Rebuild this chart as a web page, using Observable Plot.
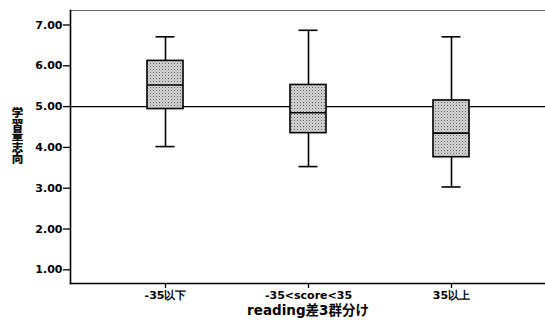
<!DOCTYPE html>
<html><head><meta charset="utf-8">
<script src="https://cdn.jsdelivr.net/npm/d3@7"></script>
<script src="https://cdn.jsdelivr.net/npm/@observablehq/plot@0.6"></script>
<style>html,body{margin:0;padding:0;background:#fff}svg{display:block}
text.vtitle{writing-mode:vertical-rl;text-orientation:upright;}
</style>
</head><body><div id="chart"></div>
<script>
const groups = ["-35以下", "-35<score<35", "35以上"];
const whiskerHigh = [6.71, 6.87, 6.71];
const q3 = [6.12, 5.53, 5.15];
const median = [5.53, 4.85, 4.35];
const q1 = [4.94, 4.35, 3.76];
const whiskerLow = [4.02, 3.53, 3.03];
const yTicks = [1, 2, 3, 4, 5, 6, 7];
const refValue = [5];
const xTitle = "reading差3群分け";
const yTitle = "学習量志向";

const data = groups.map((g, i) => ({group: g, hi: whiskerHigh[i], q3: q3[i], med: median[i], q1: q1[i], lo: whiskerLow[i]}));

const svg = Plot.plot({
  width: 545,
  height: 325,
  marginLeft: 70,
  marginRight: 0,
  marginTop: 10,
  marginBottom: 42,
  style: {fontFamily: "'DejaVu Sans', sans-serif", fontSize: "11px", fontWeight: "bold", background: "white", color: "black"},
  x: {type: "band", domain: groups, paddingInner: 0.75, paddingOuter: 0.53, label: null},
  y: {domain: [0.665, 7.355], label: null},
  marks: [
    Plot.frame({anchor: "top", stroke: "#666", strokeWidth: 1.2, strokeDasharray: "8,1,3,1"}),
    Plot.ruleY(refValue, {stroke: "black", strokeWidth: 1.2}),
    Plot.ruleX(data, {x: "group", y1: "q3", y2: "hi", stroke: "black", strokeWidth: 1.6}),
    Plot.ruleX(data, {x: "group", y1: "lo", y2: "q1", stroke: "black", strokeWidth: 1.6}),
    Plot.tickY(data, {x: "group", y: "hi", insetLeft: 8.5, insetRight: 8.5, stroke: "black", strokeWidth: 1.6}),
    Plot.tickY(data, {x: "group", y: "lo", insetLeft: 8.5, insetRight: 8.5, stroke: "black", strokeWidth: 1.6}),
    Plot.barY(data, {x: "group", y1: "q1", y2: "q3", fill: "url(#stipple)", stroke: "black", strokeWidth: 1.6}),
    Plot.tickY(data, {x: "group", y: "med", stroke: "black", strokeWidth: 1.6}),
    Plot.axisY(yTicks, {tickFormat: d => d.toFixed(2), tickSize: 7, tickPadding: 1, strokeWidth: 1.3, fontSize: 11, label: null}),
    Plot.axisX({tickSize: 5, tickPadding: 3, strokeWidth: 1.3, fontSize: 11, label: null}),
    Plot.frame({anchor: "left", stroke: "black", strokeWidth: 1.6}),
    Plot.frame({anchor: "bottom", stroke: "black", strokeWidth: 1.6}),
    Plot.text([xTitle], {frameAnchor: "bottom", dy: 31, fontSize: 13.5, letterSpacing: 1.2, fontWeight: "bold", fontFamily: "'DejaVu Sans', 'Noto Sans CJK JP', sans-serif"}),
    Plot.text([yTitle], {frameAnchor: "left", textAnchor: "middle", dx: -53, dy: -15, fontSize: 11.5, letterSpacing: -2.5, fontWeight: "900", fontFamily: "'Noto Sans CJK JP', sans-serif", className: "vtitle"})
  ]
});

const defs = document.createElementNS("http://www.w3.org/2000/svg", "defs");
defs.innerHTML = '<pattern id="stipple" width="3" height="3" patternUnits="userSpaceOnUse"><rect width="3" height="3" fill="#d9d9d9"/><rect x="0" y="0" width="1" height="1" fill="#555"/><rect x="1.5" y="1.5" width="1" height="1" fill="#888"/></pattern>';
svg.insertBefore(defs, svg.firstChild);
svg.querySelectorAll(".vtitle text, text.vtitle").forEach(t => t.classList.add("vtitle"));
document.getElementById("chart").appendChild(svg);
</script>
</body></html>
